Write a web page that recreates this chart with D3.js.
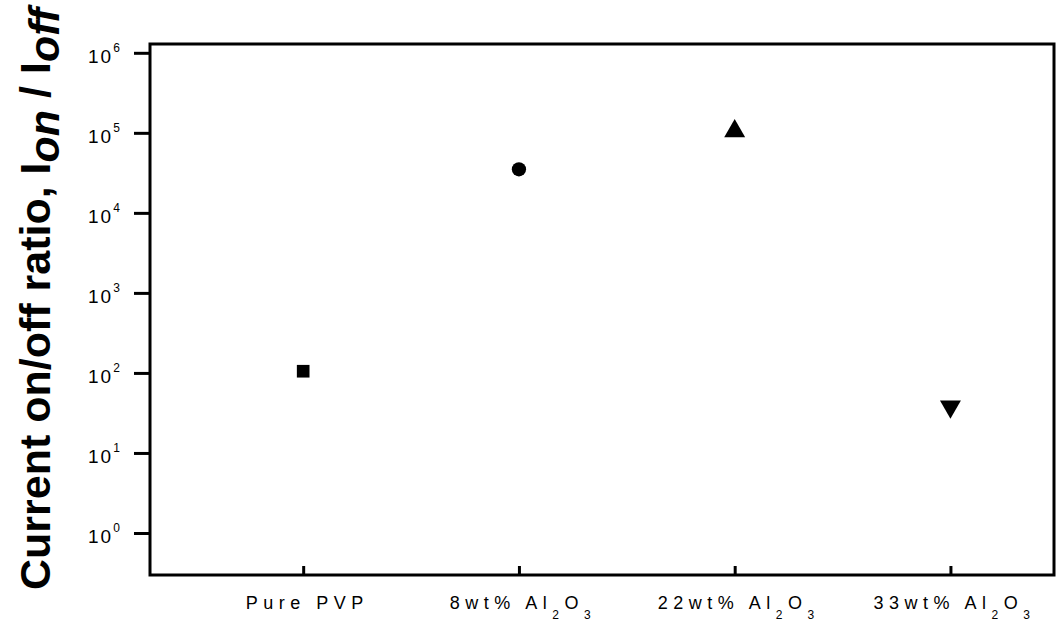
<html>
<head>
<script src="https://cdn.jsdelivr.net/npm/d3@7"></script>
</head>
<body style='margin: 0;padding: 0;background:#fff'>
<div id="chart"></div>
<script>
// data
var samples = ['Pure PVP', '8wt%', '22wt%', '33wt%']
var ratio = [105, 35000, 105000, 38]
var shapes = ['square', 'circle', 'triangle', 'triangleDown']
var yTicks = [1, 10, 100, 1000, 10000, 100000, 1000000]
var yExp = ['0', '1', '2', '3', '4', '5', '6']

var W = 1057, H = 628
var pLeft = 150, pRight = 1054, pTop = 44, pBottom = 575
var font = 'Liberation Sans, Arial, sans-serif'

var svg = d3.select('#chart').append('svg').attr('width', W).attr('height', H)

var x = d3.scaleLinear().domain([0.29, 4.48]).range([pLeft, pRight])
var y = d3.scaleLog().domain([Math.pow(10, -0.525), Math.pow(10, 6.11)]).range([pBottom, pTop])

// frame
svg.append('rect')
  .attr('x', pLeft).attr('y', pTop)
  .attr('width', pRight - pLeft).attr('height', pBottom - pTop)
  .style('fill', 'none').style('stroke', '#000').style('stroke-width', 3)

// y axis ticks
var yAxis = svg.append('g').attr('transform', 'translate(' + pLeft + ',0)')
  .call(d3.axisLeft(y).tickValues(yTicks).tickSize(16).tickFormat(''))
yAxis.select('.domain').remove()
yAxis.selectAll('line').style('stroke', '#000').style('stroke-width', 3)

yTicks.forEach((v, i) => {
  var t = svg.append('text')
    .attr('x', 88).attr('y', y(v) + 10)
    .attr('font-family', font).attr('font-size', 19)
    .style('letter-spacing', '2px')
    .style('fill', '#000')
  t.append('tspan').text('10')
  t.append('tspan').text(yExp[i]).attr('font-size', 12).attr('dy', -11)
})

// x axis ticks (inward)
var xAxis = svg.append('g').attr('transform', 'translate(0,' + pBottom + ')')
  .call(d3.axisBottom(x).tickValues([1, 2, 3, 4]).tickSize(-9).tickFormat(''))
xAxis.select('.domain').remove()
xAxis.selectAll('line').style('stroke', '#000').style('stroke-width', 3)

// x labels
samples.forEach((s, i) => {
  var t = svg.append('text')
    .attr('x', x(i + 1) + 4).attr('y', 609)
    .attr('text-anchor', 'middle')
    .attr('font-family', font).attr('font-size', 18)
    .style('letter-spacing', '5.5px')
    .style('fill', '#000')
  if (i == 0) {
    t.text(s)
  } else {
    t.append('tspan').text(s + ' Al')
    t.append('tspan').text('2').attr('font-size', 12).attr('dy', 10)
    t.append('tspan').text('O').attr('dy', -10)
    t.append('tspan').text('3').attr('font-size', 12).attr('dy', 10)
  }
})

// markers
var symType = {square: d3.symbolSquare, circle: d3.symbolCircle, triangle: d3.symbolTriangle}
ratio.forEach((v, i) => {
  var cx = x(i + 1), cy = y(v)
  if (shapes[i] == 'triangleDown') {
    svg.append('path')
      .attr('d', d3.symbol().type(d3.symbolTriangle).size(190)())
      .attr('transform', 'translate(' + cx + ',' + cy + ') rotate(180)')
      .style('fill', '#000')
  } else {
    var sz = shapes[i] == 'triangle' ? 190 : 160
    svg.append('path')
      .attr('d', d3.symbol().type(symType[shapes[i]]).size(sz)())
      .attr('transform', 'translate(' + cx + ',' + cy + ')')
      .style('fill', '#000')
  }
})

// y title
var title = svg.append('text')
  .attr('transform', 'translate(50,' + 299 + ') rotate(-90)')
  .attr('text-anchor', 'middle')
  .attr('font-family', font).attr('font-size', 43).attr('font-weight', 'bold')
  .style('fill', '#000')
title.append('tspan').text('Current on/off ratio, I')
title.append('tspan').text('on').attr('font-style', 'italic').attr('dy', 9)
title.append('tspan').text(' / I').attr('dy', -9)
title.append('tspan').text('off').attr('font-style', 'italic').attr('dy', 9)
</script>
</body>
</html>
